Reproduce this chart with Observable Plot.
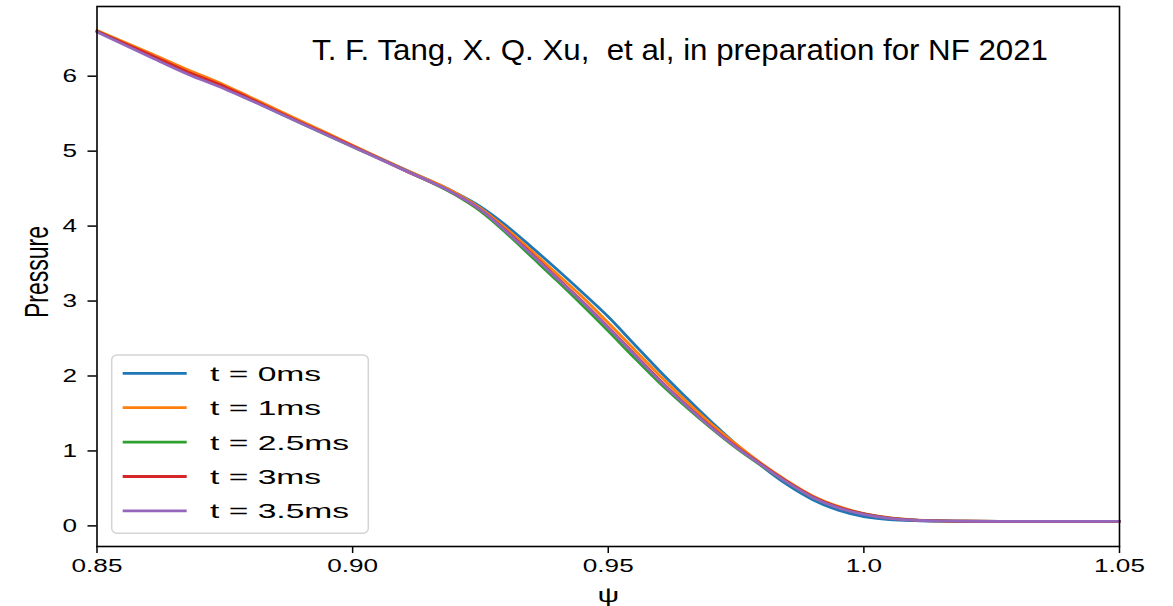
<!DOCTYPE html>
<html><head><meta charset="utf-8">
<script src="https://cdn.jsdelivr.net/npm/d3@7"></script>
<script src="https://cdn.jsdelivr.net/npm/@observablehq/plot@0.6"></script>
<style>
html,body{margin:0;padding:0;background:#fff;}
#chart{position:relative;width:1173px;height:606px;overflow:hidden;}
</style></head><body><div id="chart"></div>
<script>
const psi = [0.85,0.86,0.868,0.875,0.88,0.89,0.90,0.91,0.92,0.925,0.93,0.935,0.94,0.945,0.95,0.955,0.96,0.965,0.97,0.975,0.98,0.985,0.99,0.995,1.0,1.005,1.01,1.015,1.02,1.035,1.05];
const pT0   = [6.60,6.30,6.05,5.84,5.69,5.38,5.07,4.76,4.45,4.26,4.01,3.72,3.42,3.11,2.79,2.43,2.07,1.73,1.40,1.09,0.80,0.55,0.35,0.21,0.125,0.085,0.07,0.063,0.06,0.06,0.06];
const pT1   = [6.61,6.32,6.08,5.88,5.72,5.40,5.08,4.76,4.45,4.24,3.97,3.67,3.36,3.05,2.71,2.36,2.01,1.68,1.37,1.09,0.83,0.60,0.40,0.26,0.165,0.11,0.08,0.068,0.063,0.06,0.06];
const pT25  = [6.60,6.29,6.04,5.85,5.69,5.37,5.06,4.75,4.42,4.20,3.91,3.59,3.27,2.94,2.60,2.25,1.91,1.60,1.31,1.04,0.80,0.58,0.38,0.245,0.16,0.105,0.078,0.067,0.062,0.06,0.06];
const pT3   = [6.60,6.30,6.05,5.86,5.70,5.38,5.07,4.75,4.43,4.22,3.94,3.63,3.31,2.99,2.65,2.30,1.95,1.63,1.33,1.06,0.82,0.59,0.39,0.25,0.16,0.105,0.078,0.067,0.062,0.06,0.06];
const pT35  = [6.59,6.27,6.02,5.83,5.68,5.37,5.06,4.75,4.43,4.22,3.93,3.62,3.30,2.98,2.64,2.29,1.94,1.62,1.32,1.05,0.81,0.58,0.38,0.24,0.155,0.10,0.075,0.066,0.062,0.06,0.06];
const seriesLabels = ["t = 0ms","t = 1ms","t = 2.5ms","t = 3ms","t = 3.5ms"];
const seriesColors = ["#1f77b4","#ff7f0e","#2ca02c","#d62728","#9467bd"];
const xTicks = [0.85,0.90,0.95,1.0,1.05];
const xTickLabels = ["0.85","0.90","0.95","1.0","1.05"];
const yTicks = [0,1,2,3,4,5,6];
const yTickLabels = ["0","1","2","3","4","5","6"];
const xLabel = "ψ";
const yLabel = "Pressure";
const annotation = "T. F. Tang, X. Q. Xu,  et al, in preparation for NF 2021";

const series = [pT0,pT1,pT25,pT3,pT35];
const rows = [];
series.forEach((arr,i)=>arr.forEach((v,j)=>rows.push({psi:psi[j], p:v, s:seriesLabels[i]})));

const FONT = "'Liberation Sans', Arial, sans-serif";
const chart = Plot.plot({
  width:1173, height:606,
  marginLeft:96.5, marginRight:54, marginTop:6, marginBottom:60,
  style:{fontFamily:FONT, fontSize:"18px", background:"#fff", color:"#000", overflow:"visible"},
  x:{domain:[0.85,1.05]},
  y:{domain:[-0.275,6.93]},
  color:{domain:seriesLabels, range:seriesColors},
  marks:[
    Plot.line(rows,{x:"psi",y:"p",stroke:"s",strokeWidth:2.8,curve:"monotone-x"}),
    Plot.frame({stroke:"#000",strokeWidth:1.6}),
    Plot.axisX({ticks:xTicks, tickFormat:d=>xTickLabels[xTicks.indexOf(d)], tickSize:7, tickPadding:6, label:null, strokeWidth:1.5}),
    Plot.axisY({ticks:yTicks, tickFormat:d=>yTickLabels[yTicks.indexOf(d)], tickSize:9, tickPadding:11, label:null, strokeWidth:1.5}),
    Plot.text([xLabel],{frameAnchor:"bottom", dy:49, fontSize:21, lineAnchor:"middle"})
  ]
});
document.getElementById("chart").appendChild(chart);
const svg = d3.select(chart);

function stretch(sel,k){
  sel.each(function(){
    const w=this.getComputedTextLength();
    this.setAttribute("textLength", w*k);
    this.setAttribute("lengthAdjust","spacingAndGlyphs");
  });
}
stretch(svg.selectAll('g[aria-label="x-axis tick label"] text'),1.45);
stretch(svg.selectAll('g[aria-label="y-axis tick label"] text'),1.45);
stretch(svg.selectAll('g[aria-label="text"] text'),1.45);

// y-axis title (stretched horizontally like the source raster)
svg.append("text")
  .attr("transform","translate(36,272) rotate(-90) scale(1,1.43)")
  .attr("text-anchor","middle").attr("dominant-baseline","central")
  .style("font-family",FONT).style("font-size","23px").attr("fill","#000")
  .text(yLabel);

// annotation
svg.append("text")
  .attr("x",312).attr("y",60).attr("text-anchor","start")
  .attr("textLength",736).attr("lengthAdjust","spacingAndGlyphs")
  .style("font-family",FONT).style("font-size","30px").attr("fill","#000")
  .text(annotation);

// legend
const lg = svg.append("g").attr("aria-label","legend");
lg.append("rect").attr("x",111.7).attr("y",355).attr("width",256.6).attr("height",178.3)
  .attr("rx",5).attr("fill","#fff").attr("fill-opacity",0.85).attr("stroke","#d4d4d4").attr("stroke-width",1.5);
seriesLabels.forEach((lab,i)=>{
  const y = 373.3 + i*34.4;
  lg.append("line").attr("x1",122.7).attr("x2",186.7).attr("y1",y).attr("y2",y)
    .attr("stroke",seriesColors[i]).attr("stroke-width",2.8);
  const t = lg.append("text").attr("x",210).attr("y",y).attr("text-anchor","start").attr("dominant-baseline","central")
    .style("font-family",FONT).style("font-size","21px").attr("fill","#000").text(lab);
  stretch(t,1.6);
});
</script></body></html>
